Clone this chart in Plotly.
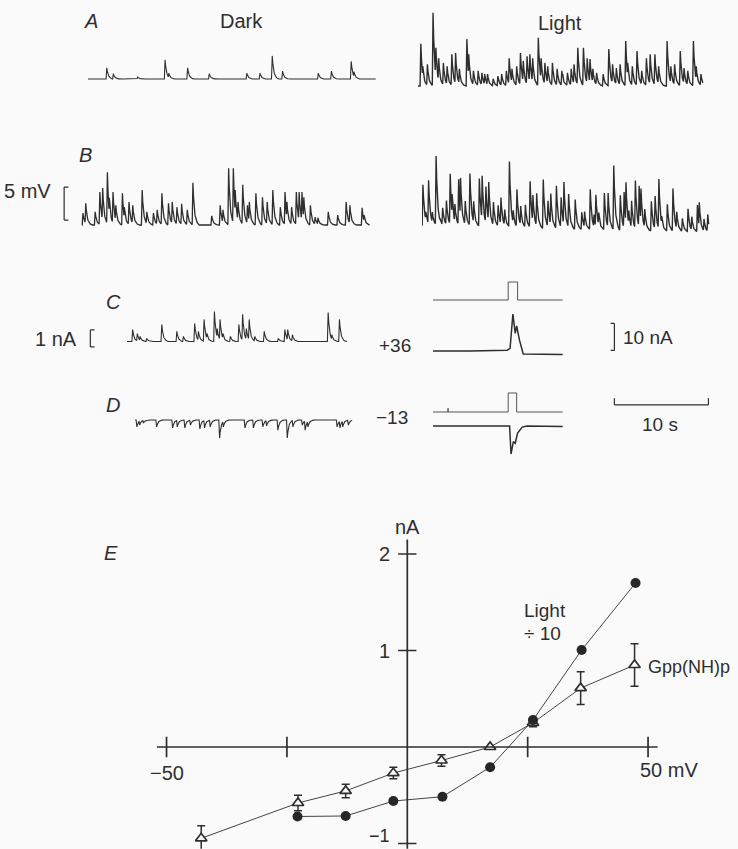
import numpy as np
import plotly.graph_objects as go

W, H = 738, 849
INK = "#2e2e2e"
FONT = "Liberation Sans, Arial, sans-serif"

# ---------------- data ----------------
# A: membrane potential, dark (spike times in s, amplitudes in mV)
a_dark_dur = 30.6
a_dark_t = [2.0, 2.7, 5.3, 8.2, 8.6, 10.6, 12.9, 16.9, 18.3, 19.6, 20.7, 24.5, 25.9, 28.0, 28.3]
a_dark_v = [1.7, 0.8, 0.3, 2.9, 0.9, 1.7, 0.8, 0.9, 0.9, 3.5, 1.2, 0.9, 1.2, 2.7, 1.1]

# A: light
a_light_dur = 30.3
a_light_t = [0.3, 0.5, 1.0, 1.6, 1.9, 2.2, 2.7, 3.1, 3.6, 4.0, 4.4, 5.2, 5.4, 5.9, 6.4, 6.8, 7.1, 7.4,
             8.0, 8.5, 8.9, 9.4, 9.7, 10.0, 10.5, 10.9, 11.2, 11.6, 11.9, 12.2, 12.8, 13.1, 13.5, 13.8,
             14.3, 14.8, 15.3, 15.4, 15.9, 16.3, 16.6, 17.0, 17.6, 18.0, 18.3, 18.6, 19.0, 19.7, 20.3,
             20.7, 21.1, 21.5, 22.1, 22.3, 22.8, 23.3, 23.8, 24.3, 24.7, 25.2, 25.6, 26.5, 26.9, 27.3,
             27.9, 28.3, 28.7, 29.3, 29.6, 30.1]
a_light_v = [6.4, 3.0, 3.3, 11.1, 5.8, 4.2, 3.5, 3.0, 4.8, 5.0, 2.6, 7.1, 4.8, 2.3, 2.3, 2.0, 1.8, 1.8,
             1.1, 1.5, 1.8, 2.3, 4.2, 2.6, 3.0, 5.0, 3.8, 4.5, 4.8, 4.2, 7.3, 4.2, 3.5, 3.0,
             3.5, 2.6, 2.3, 1.8, 2.0, 2.6, 3.3, 5.8, 5.8, 4.2, 4.1, 2.6, 2.0, 1.8, 5.6,
             3.3, 2.7, 3.3, 6.8, 3.5, 3.0, 5.3, 2.3, 4.2, 4.8, 4.8, 3.0, 6.8, 3.0, 3.3,
             5.3, 2.7, 2.3, 6.8, 3.0, 1.8]

# B: dark
b_dark_dur = 30.6
b_dark_t = [0.1, 0.4, 1.4, 1.9, 2.2, 2.7, 2.9, 3.3, 3.6, 4.3, 4.5, 5.0, 5.4, 6.4, 6.9, 7.6, 8.0, 8.5,
            9.2, 9.6, 10.1, 10.6, 11.2, 11.8, 13.8, 14.7, 15.0, 15.6, 16.1, 16.3, 16.6, 17.1, 17.6,
            17.8, 18.5, 19.2, 19.7, 20.3, 21.1, 21.6, 21.8, 22.3, 22.8, 23.1, 23.4, 23.6, 24.3, 24.8,
            25.1, 26.2, 27.2, 28.1, 28.5, 29.8, 30.0]
b_dark_v = [1.8, 3.3, 2.0, 5.0, 5.6, 8.0, 4.1, 5.0, 3.0, 4.8, 2.7, 3.5, 3.0, 5.3, 2.0, 1.8, 2.3, 4.8,
            3.3, 3.5, 2.7, 3.2, 2.3, 6.4, 1.4, 3.0, 2.3, 8.6, 8.6, 5.3, 3.5, 6.1, 3.0,
            3.5, 4.8, 4.2, 3.5, 5.3, 2.7, 5.0, 3.5, 2.7, 5.0, 5.0, 5.0, 4.2, 3.0, 1.2,
            1.1, 2.0, 1.5, 3.5, 3.0, 2.6, 1.5]

# B: light
b_light_dur = 30.5
b_light_t = [0.1, 0.4, 0.7, 1.1, 1.5, 1.9, 2.2, 2.6, 3.0, 3.2, 3.5, 3.9, 4.1, 4.6, 5.1, 5.5, 6.1, 6.4,
             6.8, 7.1, 7.6, 8.1, 8.4, 8.8, 9.3, 9.7, 10.1, 10.5, 11.0, 11.5, 11.8, 12.2, 12.9, 13.4,
             13.7, 14.3, 14.8, 15.1, 15.6, 16.3, 17.0, 17.3, 17.9, 18.3, 18.5, 18.8, 19.4, 19.8, 20.4,
             21.1, 21.5, 21.7, 22.0, 22.3, 22.7, 23.1, 23.3, 23.7, 24.4, 24.8, 25.2, 25.5, 26.1, 26.7,
             27.1, 27.7, 28.3, 28.7, 29.3, 29.5, 30.0, 30.4]
b_light_v = [6.1, 2.0, 6.8, 2.0, 10.5, 1.2, 2.7, 3.8, 7.9, 4.8, 3.3, 7.1, 7.3, 3.8, 8.0, 3.8, 7.3, 7.7,
             6.1, 6.8, 3.8, 3.3, 4.5, 2.7, 10.0, 2.6, 5.8, 3.3, 3.5, 7.1, 5.0, 5.3, 7.4, 4.2,
             5.3, 6.5, 4.8, 7.1, 5.3, 4.5, 2.6, 2.7, 6.1, 2.3, 5.3, 2.6, 5.6, 5.6, 9.8,
             5.3, 5.8, 7.3, 3.0, 4.5, 7.6, 6.8, 6.4, 3.3, 4.5, 5.3, 7.9, 2.3, 4.1, 6.5,
             3.0, 2.0, 3.5, 2.3, 4.1, 4.5, 2.0, 2.7]
b_light_base_t = [0.0, 15.0, 30.5]
b_light_base_v = [0.0, -0.6, -1.1]

# C: dark current at +36 mV (nA)
c_dark_dur = 23.4
c_dark_t = [0.6, 1.1, 1.4, 2.1, 3.7, 5.3, 6.0, 7.2, 7.6, 8.2, 8.5, 9.3, 9.6, 9.9, 10.2, 11.0, 11.9,
            12.3, 12.7, 13.0, 13.6, 14.6, 16.1, 16.8, 17.1, 17.6, 21.4, 21.8, 22.6, 22.9]
c_dark_v = [0.7, 0.47, 0.3, 0.18, 1.0, 0.6, 0.3, 1.06, 0.6, 1.3, 0.47, 1.76, 0.76, 1.3, 0.47, 0.3, 1.0,
            1.6, 0.76, 1.3, 0.3, 0.6, 0.18, 0.7, 0.7, 0.4, 1.7, 0.4, 1.3, 0.18]

# D: dark current at -13 mV (nA)
d_dark_dur = 23.1
d_dark_t = [0.2, 0.5, 0.9, 2.3, 4.0, 4.5, 5.3, 5.9, 6.9, 7.4, 8.0, 9.0, 9.4, 11.7, 12.6, 13.6, 14.0,
            15.2, 16.2, 16.8, 17.8, 18.1, 18.4, 21.5, 21.8, 22.1, 22.7]
d_dark_v = [-0.41, -0.3, -0.18, -0.41, -0.47, -0.41, -0.47, -0.3, -0.53, -0.47, -0.41, -1.06, -0.41,
            -0.47, -0.47, -0.41, -0.35, -0.6, -1.06, -0.41, -0.3, -0.6, -0.41, -0.41, -0.47, -0.41, -0.3]

# Light flash monitors and light responses (nA)
c_stim_t = [0.0, 8.0, 8.0, 9.0, 9.0, 13.8]
c_stim_v = [0, 0, 1, 1, 0, 0]
c_light_t = [0.0, 4.0, 7.9, 8.2, 8.5, 8.75, 8.9, 9.2, 9.6, 11.0, 13.8]
c_light_v = [0.0, 0.0, 0.3, 1.0, 13.7, 6.5, 9.3, 4.0, -1.1, -1.2, -1.3]
d_stim_t = [0.0, 1.6, 1.6, 1.6, 8.0, 8.0, 8.9, 8.9, 13.8]
d_stim_v = [0, 0, 0.2, 0, 0, 1, 1, 0, 0]
d_light_t = [0.0, 4.0, 8.15, 8.3, 8.55, 8.75, 9.0, 9.5, 10.0, 13.8]
d_light_v = [0.0, 0.0, 0.0, -10.4, -5.8, -6.4, -2.6, -0.4, 0.0, -0.2]

# E: current-voltage relations
light_mv = [-22.8, -12.8, -2.9, 7.3, 17.2, 26.1, 36.2, 47.4]
light_na = [-0.72, -0.715, -0.56, -0.515, -0.21, 0.28, 1.005, 1.70]
gpp_mv = [-42.8, -22.7, -12.8, -2.9, 7.1, 17.2, 26.1, 36.0, 47.2]
gpp_na = [-0.946, -0.58, -0.455, -0.27, -0.14, 0.0, 0.25, 0.61, 0.85]
gpp_err = [0.13, 0.08, 0.07, 0.06, 0.06, 0.0, 0.04, 0.17, 0.22]
e_xticks = [-50, -25, 25, 50]
e_yticks = [-1, 1, 2]
e_ylabels = ["\u22121", "1", "2"]

# ---------------- helpers ----------------
def spikes_to_trace(times, amps, dur, base_t=None, base_v=None, dt=0.02):
    t = np.arange(0.0, dur + dt / 2, dt)
    kt = np.array([-0.08, 0.0, 0.12, 0.35, 0.6])
    kf = np.array([0.0, 1.0, 0.35, 0.1, 0.0])
    pos = np.zeros_like(t)
    neg = np.zeros_like(t)
    for ti, ai in zip(times, amps):
        k = np.interp(t, ti + kt, kf * ai, left=0.0, right=0.0)
        if ai >= 0:
            pos = np.maximum(pos, k)
        else:
            neg = np.minimum(neg, k)
    v = pos + neg
    if base_t is not None:
        v = v + np.interp(t, base_t, base_v)
    return t, v


layout = {}
shapes = []
annotations = []
traces = []


def axname(n):
    return ("x" if n == 1 else f"x{n}"), ("y" if n == 1 else f"y{n}")


def make_axes(n, zero_x_px, zero_y_px, ppx, ppy, xr, yr):
    x0 = zero_x_px + xr[0] * ppx
    x1 = zero_x_px + xr[1] * ppx
    ytop = zero_y_px - yr[1] * ppy
    ybot = zero_y_px - yr[0] * ppy
    xk = "xaxis" if n == 1 else f"xaxis{n}"
    yk = "yaxis" if n == 1 else f"yaxis{n}"
    xn, yn = axname(n)
    layout[xk] = dict(domain=[max(0, x0 / W), min(1, x1 / W)], range=list(xr), visible=False,
                      anchor=yn, fixedrange=True)
    layout[yk] = dict(domain=[max(0, 1 - ybot / H), min(1, 1 - ytop / H)], range=list(yr),
                      visible=False, anchor=xn, fixedrange=True)
    return xn, yn


def add_line(n, t, v, color=INK, width=1.0):
    xn, yn = axname(n)
    traces.append(go.Scatter(x=list(t), y=list(v), mode="lines", xaxis=xn, yaxis=yn,
                             line=dict(color=color, width=width), hoverinfo="skip",
                             showlegend=False))


def seg(n, x0, y0, x1, y1, width=1.2, color=INK):
    xn, yn = axname(n)
    shapes.append(dict(type="line", xref=xn, yref=yn, x0=x0, y0=y0, x1=x1, y1=y1,
                       line=dict(color=color, width=width)))


def ann(text, px, py, size=20, xanchor="center", italic=False):
    if italic:
        text = f"<i>{text}</i>"
    annotations.append(dict(text=text, x=px / W, y=1 - py / H, xref="paper", yref="paper",
                            xanchor=xanchor, yanchor="middle", showarrow=False,
                            font=dict(family=FONT, size=size, color=INK)))


def ann_data(n, text, x, y, size=20, xanchor="center"):
    xn, yn = axname(n)
    annotations.append(dict(text=text, x=x, y=y, xref=xn, yref=yn, xanchor=xanchor,
                            yanchor="middle", showarrow=False,
                            font=dict(family=FONT, size=size, color=INK)))


PPS = 9.4      # px per second in the traces
PPMV = 6.6     # px per mV

# A dark
make_axes(1, 88, 79, PPS, PPMV, (0, 30.8), (-1, 4))
add_line(1, *spikes_to_trace(a_dark_t, a_dark_v, a_dark_dur), width=1.1)
# A light
make_axes(2, 418, 86, PPS, PPMV, (0, 30.6), (-1, 12))
add_line(2, *spikes_to_trace(a_light_t, a_light_v, a_light_dur), width=1.4)
# B dark (with 5 mV bar)
make_axes(3, 82, 225, PPS, PPMV, (-2.3, 30.8), (-1, 9.5))
add_line(3, *spikes_to_trace(b_dark_t, b_dark_v, b_dark_dur), width=1.3)
seg(3, -1.9, 0.75, -1.9, 5.75)
seg(3, -1.9, 0.75, -1.45, 0.75)
seg(3, -1.9, 5.75, -1.45, 5.75)
# B light
make_axes(4, 422, 225, PPS, PPMV, (0, 30.8), (-2, 11))
add_line(4, *spikes_to_trace(b_light_t, b_light_v, b_light_dur, b_light_base_t, b_light_base_v),
         width=1.4)
# C dark (with 1 nA bar)
make_axes(5, 127, 341.5, PPS, 17, (-4.3, 23.6), (-1, 2))
add_line(5, *spikes_to_trace(c_dark_t, c_dark_v, c_dark_dur), width=1.1)
seg(5, -3.9, -0.32, -3.9, 0.68)
seg(5, -3.9, -0.32, -3.45, -0.32)
seg(5, -3.9, 0.68, -3.45, 0.68)
# C flash monitor
make_axes(6, 433, 300, PPS, 18, (0, 13.9), (-0.3, 1.3))
add_line(6, c_stim_t, c_stim_v, color="#555555", width=1.0)
# C light response (with 10 nA bar)
make_axes(7, 433, 351, PPS, 2.7, (0, 19.8), (-3, 15))
add_line(7, c_light_t, c_light_v, width=1.5)
seg(7, 19.3, 0.2, 19.3, 10.2)
seg(7, 19.3, 0.2, 18.9, 0.2)
seg(7, 19.3, 10.2, 18.9, 10.2)
# D dark
make_axes(8, 135, 420, PPS, 17, (0, 23.3), (-1.4, 0.6))
add_line(8, *spikes_to_trace(d_dark_t, d_dark_v, d_dark_dur), width=1.1)
# D flash monitor
make_axes(9, 433, 412, PPS, 19, (0, 13.9), (-0.3, 1.3))
add_line(9, d_stim_t, d_stim_v, color="#555555", width=1.0)
# D light response (with 10 s bar)
make_axes(10, 433, 426, PPS, 2.7, (0, 29.8), (-11.5, 11.5))
add_line(10, d_light_t, d_light_v, width=1.5)
seg(10, 19.3, 7.8, 29.3, 7.8)
seg(10, 19.3, 7.8, 19.3, 10.3)
seg(10, 29.3, 7.8, 29.3, 10.3)

# E: I-V plot
PPX_E, PPY_E = 4.815, 96.5
make_axes(11, 407.3, 747, PPX_E, PPY_E, (-55, 57), (-1.055, 2.45))
seg(11, -52, 0, 52, 0, width=1.7)
seg(11, 0, -1.1, 0, 2.15, width=1.7)
for xt in e_xticks:
    seg(11, xt, -0.105, xt, 0.105, width=1.7)
for yt in e_yticks:
    seg(11, -1.9, yt, 1.9, yt, width=1.7)
traces.append(go.Scatter(
    x=gpp_mv, y=gpp_na, mode="lines+markers", xaxis="x11", yaxis="y11",
    line=dict(color="#444444", width=1.0),
    marker=dict(symbol="triangle-up", size=10, color="#fafafa", line=dict(color=INK, width=1.7)),
    error_y=dict(type="data", array=gpp_err, visible=True, color=INK, thickness=1.5, width=4),
    hoverinfo="skip", showlegend=False))
traces.append(go.Scatter(
    x=light_mv, y=light_na, mode="lines+markers", xaxis="x11", yaxis="y11",
    line=dict(color="#444444", width=1.0),
    marker=dict(symbol="circle", size=10, color="#262626"),
    hoverinfo="skip", showlegend=False))
ann_data(11, "\u221250", -50, -0.27)
ann_data(11, "50 mV", 47.9, -0.24, xanchor="left")
for yt, lab in zip(e_yticks, e_ylabels):
    if yt < 0:
        ann_data(11, lab, -3.2, yt + 0.08, size=18, xanchor="right")
    else:
        ann_data(11, lab, -3.2, yt, xanchor="right")
ann_data(11, "nA", 0, 2.28)

# text labels
ann("A", 91, 21, italic=True)
ann("Dark", 241, 21)
ann("Light", 560, 23)
ann("B", 85, 155, italic=True)
ann("5 mV", 53, 191, xanchor="right")
ann("C", 113, 302, italic=True)
ann("1 nA", 79, 339, xanchor="right")
ann("D", 113, 405, italic=True)
ann("+36", 395, 345, size=19)
ann("\u221213", 392, 418, size=19)
ann("10 nA", 621, 338, size=19, xanchor="left")
ann("10 s", 660, 424, size=19)
ann("E", 111, 553, italic=True)
ann("Light", 522, 610, size=19, xanchor="left")
ann("\u00f7 10", 522, 633, size=19, xanchor="left")
ann("Gpp(NH)p", 646, 667, size=18, xanchor="left")

fig = go.Figure(data=traces)
fig.update_layout(width=W, height=H, margin=dict(l=0, r=0, t=0, b=0),
                  paper_bgcolor="#fafafa", plot_bgcolor="rgba(0,0,0,0)",
                  showlegend=False, shapes=shapes, annotations=annotations, **layout)
fig.write_html("out.html")
